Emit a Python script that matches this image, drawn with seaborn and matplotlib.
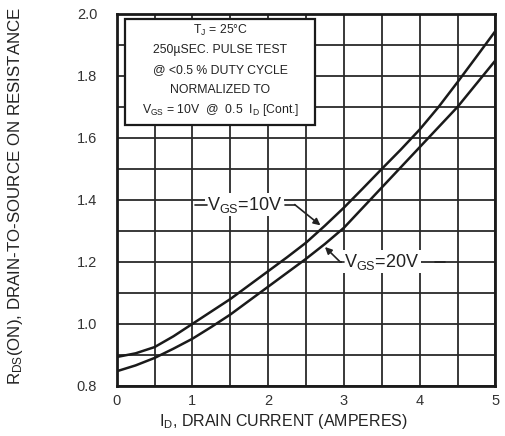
import pandas as pd
import seaborn as sns
import matplotlib.pyplot as plt
from matplotlib.patches import Rectangle

# 读取自图上的数据 (I_D, 归一化 R_DS(on))
drain_current = [0, 0.25, 0.5, 0.75, 1.0, 1.25, 1.5, 1.75, 2.0, 2.25, 2.5,
                 2.75, 3.0, 3.25, 3.5, 3.75, 4.0, 4.25, 4.5, 4.75, 5.0]
rds_vgs10 = [0.893, 0.905, 0.925, 0.96, 1.0, 1.04, 1.08, 1.125, 1.17, 1.215, 1.262,
             1.317, 1.375, 1.437, 1.50, 1.562, 1.627, 1.70, 1.78, 1.862, 1.945]
rds_vgs20 = [0.847, 0.866, 0.89, 0.92, 0.952, 0.99, 1.03, 1.075, 1.12, 1.165, 1.21,
             1.258, 1.31, 1.375, 1.44, 1.505, 1.57, 1.635, 1.70, 1.775, 1.85]
x_ticks = [0, 1, 2, 3, 4, 5]
y_ticks = [0.8, 1.0, 1.2, 1.4, 1.6, 1.8, 2.0]
note_lines = ["$\\mathregular{T_J}$ = 25°C",
              "250µSEC. PULSE TEST",
              "@ <0.5 % DUTY CYCLE",
              "NORMALIZED TO",
              "$\\mathregular{V_{GS}}$ = 10V  @  0.5  $\\mathregular{I_D}$ [Cont.]"]

df = pd.DataFrame({"I_D": drain_current, "10V": rds_vgs10, "20V": rds_vgs20})

sns.set_style("white")
plt.rcParams['font.family'] = ['Liberation Sans', 'DejaVu Sans']
plt.rcParams['mathtext.fontset'] = 'custom'
plt.rcParams['mathtext.rm'] = 'Liberation Sans'

fig = plt.figure(figsize=(5.05, 4.36), dpi=100)
ax = fig.add_axes([0.231, 0.115, 0.750, 0.853])

sns.lineplot(data=df, x="I_D", y="10V", color="#1a1a1a", lw=1.8, ax=ax, zorder=4)
sns.lineplot(data=df, x="I_D", y="20V", color="#1a1a1a", lw=1.8, ax=ax, zorder=4)

ax.set_xlim(0, 5)
ax.set_ylim(0.8, 2.0)
ax.set_xticks(x_ticks)
ax.set_yticks(y_ticks)
ax.set_xticks([0.5 * i for i in range(11)], minor=True)
ax.set_yticks([0.8 + 0.1 * i for i in range(13)], minor=True)
ax.set_xticklabels([str(t) for t in x_ticks])
ax.set_yticklabels([f"{t:.1f}" for t in y_ticks])
ax.grid(which="both", color="#2a2a2a", lw=1.3)
ax.tick_params(which="both", length=0, labelsize=10.5, colors="#333333")
ax.tick_params(axis="y", pad=14)
ax.tick_params(axis="x", pad=6)
for s in ax.spines.values():
    s.set_linewidth(2)
    s.set_color("#1a1a1a")

ax.set_xlabel("")
ax.set_ylabel("")
fig.text(0.562, 0.034, "$\\mathregular{I_D}$, DRAIN CURRENT (AMPERES)",
         ha="center", va="center", fontsize=11.5, color="#222222")
fig.text(0.030, 0.550, "$\\mathregular{R_{DS}}$(ON), DRAIN-TO-SOURCE ON RESISTANCE",
         ha="center", va="center", rotation=90, fontsize=12.2, color="#222222")

# 条件说明框
ax.add_patch(Rectangle((0.11, 1.642), 2.51, 0.343, facecolor="white",
                       edgecolor="#1a1a1a", lw=1.6, zorder=5))
for yv, line in zip([1.948, 1.883, 1.820, 1.756, 1.690], note_lines):
    ax.text(1.37, yv, line, ha="center", va="center", fontsize=8.8,
            color="#222222", zorder=6)

# 曲线标注
lead = dict(color="#222222", lw=1.2, zorder=6)
arrow = dict(arrowstyle="-|>", color="#222222", lw=1.2, mutation_scale=10,
             shrinkA=0, shrinkB=0)
ax.text(1.19, 1.385, "$\\mathregular{V_{GS}}$=10V", ha="left", va="center",
        fontsize=13, color="#222222", zorder=6,
        bbox=dict(facecolor="white", edgecolor="none", pad=1))
ax.plot([1.03, 1.19], [1.385, 1.385], **lead)
ax.plot([2.22, 2.35], [1.385, 1.385], **lead)
ax.annotate("", xy=(2.69, 1.318), xytext=(2.35, 1.385), arrowprops=arrow, zorder=6)

ax.text(3.0, 1.200, "$\\mathregular{V_{GS}}$=20V", ha="left", va="center",
        fontsize=13, color="#222222", zorder=6,
        bbox=dict(facecolor="white", edgecolor="none", pad=1))
ax.plot([2.95, 3.0], [1.200, 1.200], **lead)
ax.plot([4.20, 4.33], [1.200, 1.200], **lead)
ax.annotate("", xy=(2.75, 1.248), xytext=(2.95, 1.200), arrowprops=arrow, zorder=6)

fig.savefig("out.png", dpi=100)
